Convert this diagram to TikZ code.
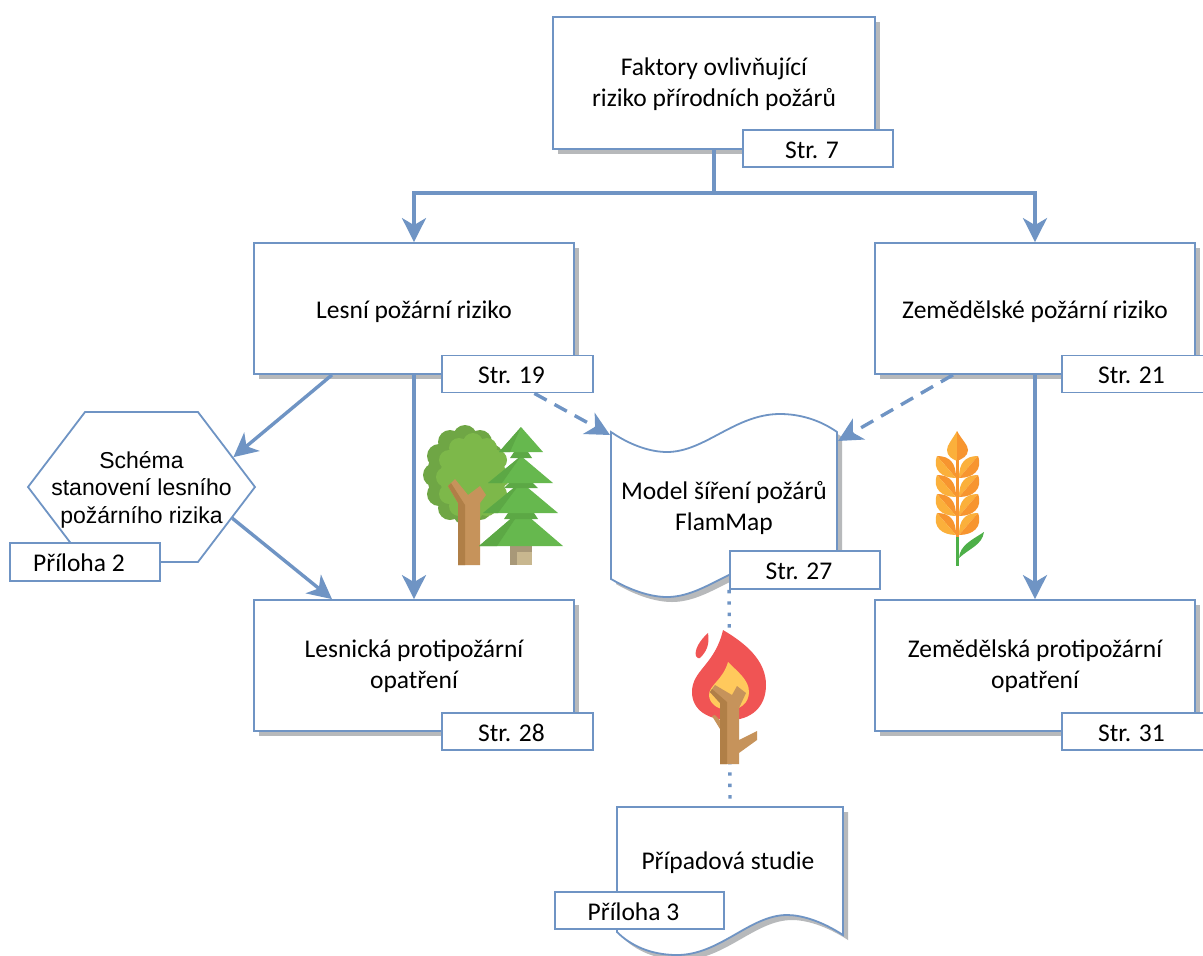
\documentclass[tikz,border=0pt]{standalone}
\usepackage{fontspec}
\setmainfont{Carlito}
\newfontfamily\schemafont{Liberation Sans}
\usetikzlibrary{arrows.meta, shadows, shapes.symbols}
\definecolor{boxblue}{HTML}{6F94C4}
\definecolor{shadowgray}{HTML}{B7B9BB}
\definecolor{crowndark}{HTML}{6FA645}
\definecolor{crownlight}{HTML}{7DB84A}
\definecolor{pinedark}{HTML}{5CA845}
\definecolor{pinelight}{HTML}{66B84E}
\definecolor{woodlight}{HTML}{C6935B}
\definecolor{wooddark}{HTML}{B07F47}
\definecolor{stumplight}{HTML}{C8B78F}
\definecolor{stumpdark}{HTML}{A89878}
\definecolor{grainlight}{HTML}{FBB03B}
\definecolor{graindark}{HTML}{F7952F}
\definecolor{stemgreen}{HTML}{4DAF48}
\definecolor{flamered}{HTML}{F05454}
\definecolor{flameyellow}{HTML}{FFC95C}
\tikzset{
  mainbox/.style={draw=boxblue, line width=1.8pt, fill=white, align=center, font=\fontsize{25.5}{31}\selectfont,
    minimum width=320pt, minimum height=131pt, inner sep=0pt,
    drop shadow={opacity=1, fill=shadowgray, shadow xshift=5pt, shadow yshift=-5pt}},
  tagbox/.style={draw=boxblue, line width=1.8pt, fill=white, font=\fontsize{25.5}{30}\selectfont,
    minimum width=151pt, minimum height=37pt, inner sep=0pt, text height=21pt, text depth=2pt, execute at end node=\hspace{12pt}},
  doctext/.style={align=center, font=\fontsize{25.5}{31}\selectfont, inner sep=0pt},
  docshape/.style={draw=boxblue, line width=1.8pt, fill=white,
    preaction={draw=none, fill=shadowgray, transform canvas={xshift=5pt, yshift=-5pt}}},
  flow/.style={draw=boxblue, line width=3.4pt, -{Stealth[length=24pt, width=24pt, inset=7pt]}},
  flowdash/.style={flow, dash pattern=on 14pt off 9pt},
  flowdot/.style={draw=boxblue, line width=3.4pt, dash pattern=on 3.4pt off 8pt},
}
\newcommand{\lowered}[2]{\raisebox{-#1pt}[0pt][0pt]{#2}}
\newcommand{\grainrow}[1]{
\fill[graindark] (937,#1) .. controls (950,#1) and (956,#1+7) .. (956,#1+22) -- cycle;
\fill[grainlight] (937,#1) .. controls (932,#1+14) and (942,#1+22) .. (956,#1+22) -- cycle;
\fill[grainlight] (978,#1) .. controls (965,#1) and (959,#1+7) .. (959,#1+22) -- cycle;
\fill[graindark] (978,#1) .. controls (983,#1+14) and (973,#1+22) .. (959,#1+22) -- cycle;
}
\begin{document}
\begin{tikzpicture}[x=1pt, y=-1pt]
\clip (0,0) rectangle (1203,956);
\fill[white] (0,0) rectangle (1203,956);
% boxes
\node[mainbox, minimum width=322pt, minimum height=132pt] (factors) at (714,83) {\lowered{7.5}{Faktory ovlivňující}\\\lowered{7.5}{riziko přírodních požárů}};
\node[mainbox] (forest) at (414,308.5) {\lowered{9.5}{Lesní požární riziko}};
\node[mainbox] (agri) at (1035,308.5) {\lowered{9.5}{Zemědělské požární riziko}};
\node[mainbox] (forestplan) at (414,665.5) {\lowered{7}{Lesnická protipožární}\\\lowered{7}{opatření}};
\node[mainbox] (agriplan) at (1035,665.5) {\lowered{7}{Zemědělská protipožární}\\\lowered{7}{opatření}};
\node[signal, signal to=west and east, signal pointer angle=105.5, draw=boxblue, line width=1.8pt, fill=white, inner sep=0pt,
  minimum width=227pt, minimum height=150pt,
  label={[align=center, inner sep=0pt, yshift=-2.5pt, font=\schemafont\fontsize{23}{27.5}\selectfont]center:Schéma\\stanovení lesního\\požárního rizika}] (scheme) at (141.5,487) {};
% documents
\path[docshape] (611,432) .. controls (630,445) and (650,452) .. (667,452) .. controls (705,452) and (735,414) .. (780,414) .. controls (800,414) and (820,420) .. (837,432) -- (837,579) .. controls (820,567) and (800,561) .. (780,561) .. controls (735,561) and (705,597) .. (667,597) .. controls (650,597) and (630,590) .. (611,579) -- cycle;
\path[docshape] (617,807) -- (843,807) -- (843,935) .. controls (820,920) and (800,915) .. (787,915) .. controls (750,915) and (720,955) .. (677,955) .. controls (650,955) and (630,945) .. (617,932) -- cycle;
\node[doctext] (model) at (724,508) {Model šíření požárů\\FlamMap};
\node[doctext] (study) at (728,863) {Případová studie};
\coordinate (modelleft) at (610,435);
\coordinate (modelright) at (838,441);
\coordinate (studytop) at (730,807);
\coordinate (branch) at (714,193);
% tags
\node[tagbox, minimum width=150pt] (tagfactors) at (818,148.5) {Str. 7};
\node[tagbox] (tagforest) at (517.5,374) {Str. 19};
\node[tagbox] (tagagri) at (1137.5,374) {Str. 21};
\node[tagbox] (tagforestplan) at (517.5,731.5) {Str. 28};
\node[tagbox] (tagagriplan) at (1137.5,731.5) {Str. 31};
\node[tagbox, minimum width=150pt, minimum height=38pt] (tagmodel) at (805,570) {Str. 27};
\node[tagbox, minimum width=150pt, minimum height=38pt] (tagscheme) at (85,562) {Příloha 2};
\node[tagbox, minimum width=169pt] (tagstudy) at (639.5,910.5) {Příloha 3};
% connectors
\draw[draw=boxblue, line width=3.4pt] (factors.south) -- (branch);
\draw[flow] (branch) -| (forest.north);
\draw[flow] (branch) -| (agri.north);
\draw[flow] (forest.south) -- (forestplan.north);
\draw[flow] (agri.south) -- (agriplan.north);
\draw[flow] (forest.219) -- (scheme.18.7);
\draw[flow] (scheme.-19.5) -- (forestplan.141);
\draw[flowdash] (tagforest.-49) -- (modelleft);
\draw[flowdash] (agri.219) -- (modelright);
\draw[flowdot] (tagmodel.south west) -- (studytop);
% tree
\fill[crowndark] (465,475) circle (38) (495,475) circle (12) (491,456) circle (12) (480,442) circle (12) (465,437) circle (12) (450,442) circle (12) (439,456) circle (12) (435,475) circle (12) (439,494) circle (12) (450,508) circle (12) (465,513) circle (12) (480,508) circle (12) (491,494) circle (12);
\fill[crownlight] (473,477) circle (33) (500,477) circle (10) (497,460) circle (10) (487,448) circle (10) (473,443) circle (10) (459,448) circle (10) (449,460) circle (10) (446,477) circle (10) (449,494) circle (10) (459,506) circle (10) (473,511) circle (10) (487,506) circle (10) (497,494) circle (10);
\fill[woodlight] (458,565) -- (458,503) -- (448,486) -- (455,479) -- (468,495) -- (480,486) -- (486,495) -- (480,503) -- (480,565) -- cycle;
\fill[wooddark] (458,565) -- (458,503) -- (448,486) -- (451,483) -- (465,505) -- (465,565) -- cycle;
% pine
\fill[stumplight] (510,546) rectangle (532,565);
\fill[stumpdark] (510,546) rectangle (517,565);
\fill[stumpdark] (510,546) rectangle (532,552);
\fill[pinelight] (521,510) -- (563,546) -- (479,546) -- cycle;
\fill[pinedark] (521,510) -- (497,546) -- (479,546) -- cycle;
\fill[pinedark] (508,513) -- (534,513) -- (538,519) -- (504,519) -- cycle;
\fill[pinelight] (521,482) -- (558,513) -- (483,513) -- cycle;
\fill[pinedark] (521,482) -- (498,513) -- (483,513) -- cycle;
\fill[pinedark] (509,483) -- (533,483) -- (538,488) -- (504,488) -- cycle;
\fill[pinelight] (521,456) -- (553,483) -- (488,483) -- cycle;
\fill[pinedark] (521,456) -- (502,483) -- (488,483) -- cycle;
\fill[pinedark] (514,452) -- (528,452) -- (532,458) -- (510,458) -- cycle;
\fill[pinelight] (521,427) -- (543,452) -- (499,452) -- cycle;
\fill[pinedark] (521,427) -- (510,452) -- (499,452) -- cycle;
% wheat
\grainrow{456}
\grainrow{475}
\grainrow{494}
\grainrow{513}
\fill[grainlight] (957,431) .. controls (952,440) and (947,445) .. (947,450) .. controls (947,456) and (952,459) .. (957,461) -- cycle;
\fill[graindark] (957,431) .. controls (962,440) and (968,445) .. (968,450) .. controls (968,456) and (962,459) .. (957,461) -- cycle;
\fill[graindark] (955.5,460) rectangle (959,537);
\fill[stemgreen] (955.5,537) rectangle (959,566);
\fill[stemgreen] (959,558) .. controls (960,545) and (972,540) .. (984,532) .. controls (982,545) and (970,548) .. (959,558) -- cycle;
% flame
\fill[flamered] (723,630) .. controls (745,643) and (766,660) .. (766,685) .. controls (766,708) and (750,720) .. (730,720) .. controls (708,720) and (692,710) .. (692,692) .. controls (692,670) and (715,665) .. (723,630) -- cycle;
\fill[flamered] (708,633) .. controls (700,640) and (694,650) .. (696,656) .. controls (697,658) and (699,659) .. (700,658) .. controls (706,652) and (710,645) .. (708,633) -- cycle;
\fill[flameyellow] (728,662) .. controls (738,672) and (749,680) .. (749,692) .. controls (749,703) and (740,710) .. (729,710) .. controls (716,710) and (709,702) .. (709,695) .. controls (709,685) and (723,680) .. (728,662) -- cycle;
\fill[woodlight] (720,764) -- (720,729) -- (712,716) -- (715,715) -- (720,720) -- (720,703) -- (710,692) -- (715,685) -- (732,695) -- (737,686) -- (746,693) -- (739,708) -- (739,740) -- (757,731) -- (757,740) -- (739,753) -- (739,764) -- cycle;
\fill[wooddark] (720,764) -- (720,703) -- (710,692) -- (712,689) -- (727,702) -- (727,764) -- cycle;
\end{tikzpicture}
\end{document}
